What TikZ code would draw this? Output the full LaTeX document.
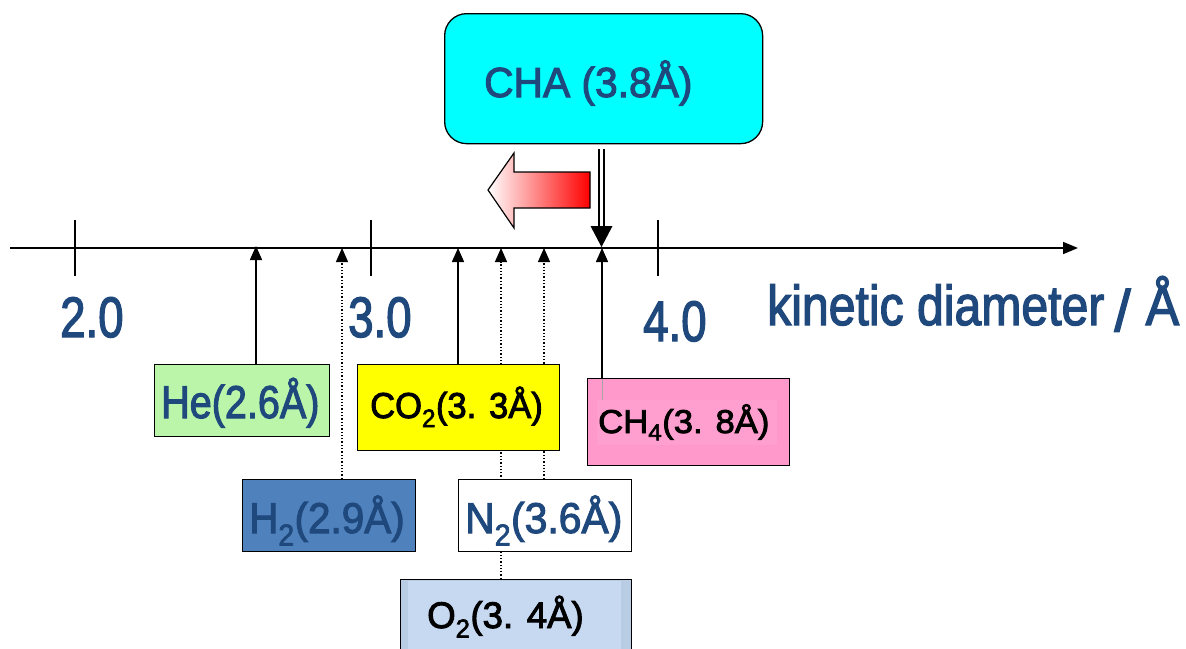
\documentclass[tikz,border=0pt]{standalone}
\usepackage{fontspec}
\setmainfont{Liberation Sans}[FakeBold=2.5]
\usetikzlibrary{arrows.meta}
\definecolor{tblue}{HTML}{1F497D}
\definecolor{hegreen}{HTML}{BBF5AA}
\definecolor{htwoblue}{HTML}{4F81BD}
\definecolor{otwo}{HTML}{C6D9F1}
\definecolor{otwoband}{HTML}{B8CCE4}
\definecolor{chpink}{HTML}{FF99CC}
\definecolor{chpinkin}{HTML}{FF9FCF}
\definecolor{chacyan}{HTML}{00FFFF}
\definecolor{coyellow}{HTML}{FFFF00}
\definecolor{arrred}{HTML}{FF0000}
\newcommand{\hsc}[2]{\scalebox{#1}[1]{#2}}
\newcommand{\fs}[1]{\fontsize{#1}{#1}\selectfont}
\begin{document}
\begin{tikzpicture}[x=1pt,y=-1pt,
  box/.style={draw=black,line width=1.3pt,inner sep=0pt,anchor=north west},
  lbl/.style={inner sep=0pt,anchor=base west},
  btxt/.style={lbl,text=tblue},
  ktxt/.style={lbl,text=black},
  upsolid/.style={line width=1.5pt,-{Triangle[length=14pt,width=12pt]}},
  updot/.style={line width=1.3pt,dotted,-{Triangle[length=14pt,width=12pt]}},
  tick/.style={line width=1.3pt}]
\clip (0,0) rectangle (1186,648);
\fill[white] (0,0) rectangle (1186,648);

% axis
\coordinate (axL) at (10,248);
\coordinate (axR) at (1078,248);
\draw[line width=1.6pt,-{Triangle[length=15pt,width=12pt]}] (axL) -- (axR);
\coordinate (k2a) at (75,220); \coordinate (k2b) at (75,276);
\coordinate (k3a) at (371,220); \coordinate (k3b) at (371,276);
\coordinate (k4a) at (658,220); \coordinate (k4b) at (658,276);
\draw[tick] (k2a) -- (k2b);
\draw[tick] (k3a) -- (k3b);
\draw[tick] (k4a) -- (k4b);

% tick labels
\node[btxt,font=\fs{57}] (t2) at (60,337) {\hsc{0.8}{2.0}};
\node[btxt,font=\fs{57}] (t3) at (348,337) {\hsc{0.8}{3.0}};
\node[btxt,font=\fs{57}] (t4) at (643,341) {\hsc{0.8}{4.0}};
\node[btxt,font=\fs{56}] (kin) at (767,325) {\hsc{0.86}{kinetic diameter}\hspace{10pt}\raisebox{-6pt}{\fs{58}/}\hspace{15pt}\hsc{0.9}{Å}};

% CHA box
\node[box,fill=chacyan,rounded corners=22pt,minimum width=318pt,minimum height=130pt] (cha) at (444,13) {};
\node[btxt,font=\fs{42}] (chaL) at (484,97) {\hsc{0.97}{CHA (3.8Å)}};

% block arrow (gradient)
\shade[left color=white,right color=arrred,draw=black,line width=1.2pt]
  (488,190) -- (514,153) -- (514,172) -- (590,172) -- (590,208) -- (514,208) -- (514,228) -- cycle;

% CHA double arrow
\coordinate (xCha) at (601.5,247);
\draw[line width=1.4pt] ([xshift=-2.6pt]xCha |- cha.south) ++(0,5) -- ([xshift=-2.6pt]xCha |- 0,228);
\draw[line width=1.4pt] ([xshift=2.6pt]xCha |- cha.south) ++(0,5) -- ([xshift=2.6pt]xCha |- 0,228);
\fill[black] (590.5,226) -- (612.5,226) -- (xCha) -- cycle;

% connectors (arrows up to the axis)
\coordinate (xHe) at (256,246);
\coordinate (xHtwo) at (342,248);
\coordinate (xCOtwo) at (458,248);
\coordinate (xOtwo) at (501,248);
\coordinate (xNtwo) at (544,248);
\coordinate (xCHfour) at (602,248);

% boxes (drawn after dotted lines that pass behind)
\node[box,fill=otwoband,minimum width=231pt,minimum height=90pt] (otwo) at (400,579) {};
\draw[updot] (xOtwo |- otwo.north) -- (xOtwo);
\node[box,fill=white,minimum width=173pt,minimum height=72pt] (ntwo) at (458,479) {};
\draw[updot] (xNtwo |- ntwo.north) -- (xNtwo);
\node[box,fill=htwoblue,minimum width=173pt,minimum height=72pt] (htwo) at (242,479) {};
\draw[updot] (xHtwo |- htwo.north) -- (xHtwo);
\node[box,fill=hegreen,minimum width=175pt,minimum height=72pt] (he) at (154,364) {};
\draw[upsolid] (xHe |- he.north) -- (xHe);
\node[box,fill=coyellow,minimum width=202pt,minimum height=86pt] (cotwo) at (357,364) {};
\draw[upsolid] (xCOtwo |- cotwo.north) -- (xCOtwo);
\node[box,fill=chpink,minimum width=202pt,minimum height=87pt] (chfour) at (587,378) {};
\draw[upsolid] (xCHfour |- chfour.north) -- (xCHfour);

% inner details
\fill[otwo] (408,581) rectangle (621,650);
\fill[chpinkin] (597,400) rectangle (777,445);
\draw[gray!70,line width=0.8pt] (602,379) -- (602,400);

% box labels
\node[btxt,font=\fs{46}] (heL) at (161,418) {\hsc{0.86}{He(2.6Å)}};
\node[btxt,font=\fs{43}] (htwoL) at (249,533) {\hsc{0.94}{H\textsubscript{2}(2.9Å)}};
\node[btxt,font=\fs{43}] (ntwoL) at (465,533) {\hsc{0.95}{N\textsubscript{2}(3.6Å)}};
\node[ktxt,font=\fs{36}] (cotwoL) at (370,418) {\hsc{0.96}{CO\textsubscript{2}(3. 3Å)}};
\node[ktxt,font=\fs{33}] (chfourL) at (598,433) {\hsc{1.05}{CH\textsubscript{4}(3. 8Å)}};
\node[ktxt,font=\fs{37}] (otwoL) at (427,628) {\hsc{0.99}{O\textsubscript{2}(3. 4Å)}};
\end{tikzpicture}
\end{document}
